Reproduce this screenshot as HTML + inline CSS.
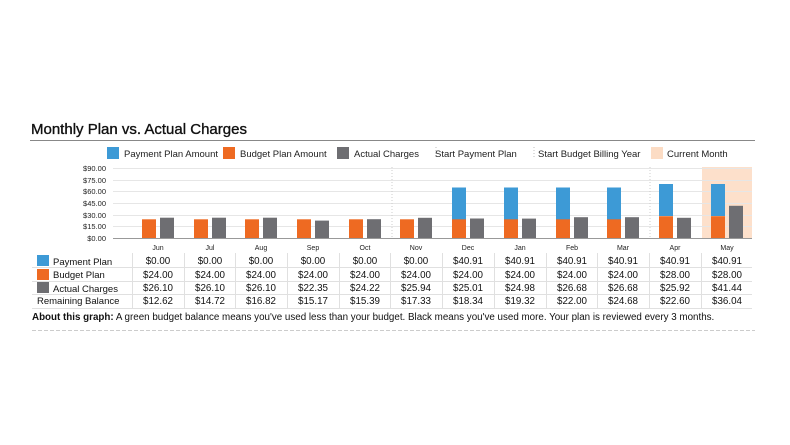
<!DOCTYPE html>
<html><head><meta charset="utf-8"><style>
body{margin:0;background:#fff;width:790px;height:440px;overflow:hidden;font-family:"Liberation Sans",sans-serif}
</style></head><body>
<svg width="790" height="440" xmlns="http://www.w3.org/2000/svg" font-family="Liberation Sans, sans-serif">
<text x="31" y="134" font-size="15" fill="#111" stroke="#111" stroke-width="0.35">Monthly Plan vs. Actual Charges</text>
<line x1="30" y1="140.5" x2="755" y2="140.5" stroke="#888" stroke-width="1"/>
<!-- legend -->
<rect x="107" y="147" width="12" height="12" fill="#3d9ad6"/><text x="124" y="157" font-size="9.5" fill="#222">Payment Plan Amount</text>
<rect x="223" y="147" width="12" height="12" fill="#ee6a22"/><text x="240" y="157" font-size="9.5" fill="#222">Budget Plan Amount</text>
<rect x="337" y="147" width="12" height="12" fill="#6e6e72"/><text x="354" y="157" font-size="9.5" fill="#222">Actual Charges</text>
<line x1="436" y1="147" x2="436" y2="159" stroke="#bbb" stroke-dasharray="1,2"/><text x="435" y="157" font-size="9.5" fill="#222">Start Payment Plan</text>
<line x1="534" y1="147" x2="534" y2="159" stroke="#bbb" stroke-dasharray="1,2"/><text x="538" y="157" font-size="9.5" fill="#222">Start Budget Billing Year</text>
<rect x="651" y="147" width="12" height="12" fill="#fcdcc4"/><text x="667" y="157" font-size="9.5" fill="#222">Current Month</text>
<!-- current month -->
<rect x="702" y="167" width="50" height="71" fill="#fde0cb"/>
<!-- grid -->
<g stroke="#e6e6e6" stroke-width="1">
<line x1="113" y1="168.5" x2="752" y2="168.5"/><line x1="113" y1="180.5" x2="752" y2="180.5"/>
<line x1="113" y1="191.5" x2="752" y2="191.5"/><line x1="113" y1="203.5" x2="752" y2="203.5"/>
<line x1="113" y1="215.5" x2="752" y2="215.5"/><line x1="113" y1="226.5" x2="752" y2="226.5"/>
</g>
<line x1="392" y1="167" x2="392" y2="238" stroke="#ccc" stroke-dasharray="1,2"/>
<line x1="650" y1="167" x2="650" y2="238" stroke="#ccc" stroke-dasharray="1,2"/>
<g font-size="7.5" fill="#222" text-anchor="end">
<text x="106" y="171">$90.00</text><text x="106" y="183">$75.00</text><text x="106" y="194">$60.00</text>
<text x="106" y="206">$45.00</text><text x="106" y="218">$30.00</text><text x="106" y="229">$15.00</text><text x="106" y="241">$0.00</text>
</g>
<!-- bars -->
<g fill="#3d9ad6">
<rect x="452" y="187.5" width="14" height="32"/><rect x="504" y="187.5" width="14" height="32"/>
<rect x="556" y="187.5" width="14" height="32"/><rect x="607" y="187.5" width="14" height="32"/>
<rect x="659" y="184" width="14" height="32"/><rect x="711" y="184" width="14" height="32"/>
</g>
<g fill="#ee6a22">
<rect x="142" y="219.3" width="14" height="18.7"/><rect x="194" y="219.3" width="14" height="18.7"/>
<rect x="245" y="219.3" width="14" height="18.7"/><rect x="297" y="219.3" width="14" height="18.7"/>
<rect x="349" y="219.3" width="14" height="18.7"/><rect x="400" y="219.3" width="14" height="18.7"/>
<rect x="452" y="219.3" width="14" height="18.7"/><rect x="504" y="219.3" width="14" height="18.7"/>
<rect x="556" y="219.3" width="14" height="18.7"/><rect x="607" y="219.3" width="14" height="18.7"/>
<rect x="659" y="216.2" width="14" height="21.8"/><rect x="711" y="216.2" width="14" height="21.8"/>
</g>
<g fill="#6e6e72">
<rect x="160" y="217.7" width="14" height="20.3"/><rect x="212" y="217.7" width="14" height="20.3"/>
<rect x="263" y="217.7" width="14" height="20.3"/><rect x="315" y="220.6" width="14" height="17.4"/>
<rect x="367" y="219.2" width="14" height="18.8"/><rect x="418" y="217.8" width="14" height="20.2"/>
<rect x="470" y="218.5" width="14" height="19.5"/><rect x="522" y="218.6" width="14" height="19.4"/>
<rect x="574" y="217.2" width="14" height="20.8"/><rect x="625" y="217.2" width="14" height="20.8"/>
<rect x="677" y="217.8" width="14" height="20.2"/><rect x="729" y="205.8" width="14" height="32.2"/>
</g>
<line x1="113" y1="238.5" x2="752" y2="238.5" stroke="#999"/>
<g font-size="7" fill="#222" text-anchor="middle">
<text x="158" y="250">Jun</text><text x="210" y="250">Jul</text><text x="261" y="250">Aug</text><text x="313" y="250">Sep</text>
<text x="365" y="250">Oct</text><text x="416" y="250">Nov</text><text x="468" y="250">Dec</text><text x="520" y="250">Jan</text>
<text x="572" y="250">Feb</text><text x="623" y="250">Mar</text><text x="675" y="250">Apr</text><text x="727" y="250">May</text>
</g>
<!-- table -->
<g stroke="#e0e0e0" stroke-width="1">
<line x1="32" y1="267.5" x2="752" y2="267.5"/><line x1="32" y1="281.5" x2="752" y2="281.5"/>
<line x1="32" y1="294.5" x2="752" y2="294.5"/><line x1="32" y1="308.5" x2="752" y2="308.5"/>
<line x1="132.5" y1="253" x2="132.5" y2="308"/><line x1="184.5" y1="253" x2="184.5" y2="308"/>
<line x1="235.5" y1="253" x2="235.5" y2="308"/><line x1="287.5" y1="253" x2="287.5" y2="308"/>
<line x1="339.5" y1="253" x2="339.5" y2="308"/><line x1="390.5" y1="253" x2="390.5" y2="308"/>
<line x1="442.5" y1="253" x2="442.5" y2="308"/><line x1="494.5" y1="253" x2="494.5" y2="308"/>
<line x1="546.5" y1="253" x2="546.5" y2="308"/><line x1="597.5" y1="253" x2="597.5" y2="308"/>
<line x1="649.5" y1="253" x2="649.5" y2="308"/><line x1="701.5" y1="253" x2="701.5" y2="308"/>
</g>
<rect x="37" y="255" width="12" height="11" fill="#3d9ad6"/>
<rect x="37" y="269" width="12" height="11" fill="#ee6a22"/>
<rect x="37" y="282" width="12" height="11" fill="#6e6e72"/>
<g font-size="9.5" fill="#111">
<text x="53" y="265">Payment Plan</text><text x="53" y="278">Budget Plan</text>
<text x="53" y="292">Actual Charges</text><text x="37" y="304">Remaining Balance</text>
</g>
<g font-size="9.8" fill="#111" text-anchor="middle">
<text y="264"><tspan x="158">$0.00</tspan><tspan x="210">$0.00</tspan><tspan x="261">$0.00</tspan><tspan x="313">$0.00</tspan><tspan x="365">$0.00</tspan><tspan x="416">$0.00</tspan><tspan x="468">$40.91</tspan><tspan x="520">$40.91</tspan><tspan x="572">$40.91</tspan><tspan x="623">$40.91</tspan><tspan x="675">$40.91</tspan><tspan x="727">$40.91</tspan></text>
<text y="278"><tspan x="158">$24.00</tspan><tspan x="210">$24.00</tspan><tspan x="261">$24.00</tspan><tspan x="313">$24.00</tspan><tspan x="365">$24.00</tspan><tspan x="416">$24.00</tspan><tspan x="468">$24.00</tspan><tspan x="520">$24.00</tspan><tspan x="572">$24.00</tspan><tspan x="623">$24.00</tspan><tspan x="675">$28.00</tspan><tspan x="727">$28.00</tspan></text>
<text y="291"><tspan x="158">$26.10</tspan><tspan x="210">$26.10</tspan><tspan x="261">$26.10</tspan><tspan x="313">$22.35</tspan><tspan x="365">$24.22</tspan><tspan x="416">$25.94</tspan><tspan x="468">$25.01</tspan><tspan x="520">$24.98</tspan><tspan x="572">$26.68</tspan><tspan x="623">$26.68</tspan><tspan x="675">$25.92</tspan><tspan x="727">$41.44</tspan></text>
<text y="304"><tspan x="158">$12.62</tspan><tspan x="210">$14.72</tspan><tspan x="261">$16.82</tspan><tspan x="313">$15.17</tspan><tspan x="365">$15.39</tspan><tspan x="416">$17.33</tspan><tspan x="468">$18.34</tspan><tspan x="520">$19.32</tspan><tspan x="572">$22.00</tspan><tspan x="623">$24.68</tspan><tspan x="675">$22.60</tspan><tspan x="727">$36.04</tspan></text>
</g>
<text x="32" y="320" font-size="9.8" fill="#111"><tspan font-weight="bold">About this graph:</tspan> A green budget balance means you've used less than your budget. Black means you've used more. Your plan is reviewed every 3 months.</text>
<line x1="32" y1="330.5" x2="755" y2="330.5" stroke="#ccc" stroke-dasharray="4,2"/>
</svg>
</body></html>
